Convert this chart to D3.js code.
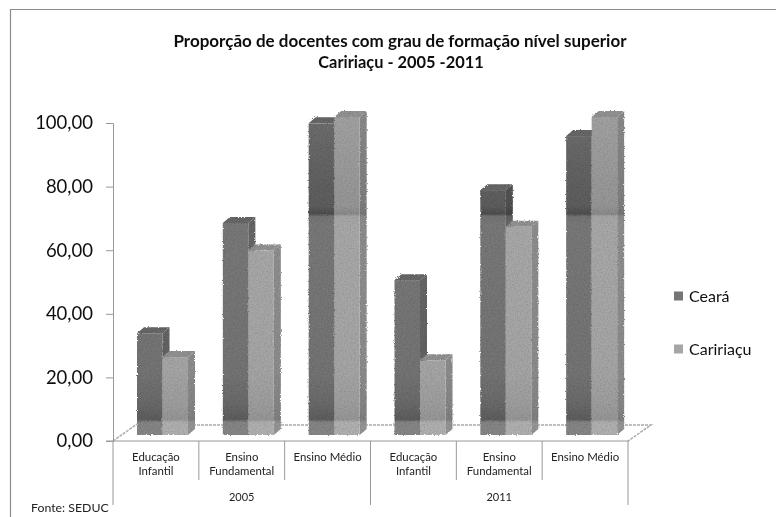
<!DOCTYPE html>
<html>
<head>
<meta charset="utf-8">
<style>
body { margin: 0; background: #fff; }
svg { display: block; }
text { font-family: Lato, "Open Sans", sans-serif; fill: #111; }
.title { font-weight: 700; text-anchor: middle; }
.yAxis text { font-size: 18.5px; }
.yAxis path, .yAxis line { stroke: #999; stroke-width: 1px; }
.xAxis text { font-size: 11.4px; fill: #222; }
.year { font-size: 11px; text-anchor: middle; fill: #222; }
.sep { stroke: #999; stroke-width: 1px; }
.floor { stroke: #aaa; stroke-width: 1.5px; stroke-dasharray: 3 1; fill: none; }
.legend { font-size: 16px; }
.source { font-size: 12.3px; fill: #222; }
</style>
</head>
<body>
<script src="https://d3js.org/d3.v7.min.js"></script>
<script>

// data
var categories = ["Educação Infantil", "Ensino Fundamental", "Ensino Médio",
                  "Educação Infantil", "Ensino Fundamental", "Ensino Médio"];
var years = ["2005", "2011"];
var seriesNames = ["Ceará", "Caririaçu"];
var ceara = [32, 66.7, 98, 48.7, 77, 94];
var caririacu = [24.5, 58, 100, 23.5, 65.5, 100];
var yTicks = [0, 20, 40, 60, 80, 100];
var seriesColors = ["#757575", "#a6a6a6"];

var width = 776, height = 517;
var depthX = 7, depthY = 6;   // the fake 3d offset
var axisLeft = 113, axisRight = 628;
var axisZero = 441, axisTop = 123;

var x0 = d3.scaleBand().domain(d3.range(categories.length)).range([axisLeft, axisRight]);
var x1 = d3.scaleBand().domain(d3.range(seriesNames.length)).range([24, 75]);

// walls
var y = d3.scaleLinear().domain([0, 100]).range([axisZero, axisTop]);
// front face of the bars sits a bit forward of the wall
var yFront = function(v) { return y(v) - depthY; };

var svg = d3.select("body").append("svg")
    .attr("width", width)
    .attr("height", height);

var defs = svg.append("defs");

// scanned look: rough edges and grain on the bars
var rough = defs.append("filter").attr("id", "rough")
    .attr("x", "-5%").attr("y", "-5%").attr("width", "110%").attr("height", "110%");
rough.append("feTurbulence").attr("type", "fractalNoise").attr("baseFrequency", 0.7)
    .attr("numOctaves", 2).attr("seed", 3).attr("result", "noise");
rough.append("feDisplacementMap").attr("in", "SourceGraphic").attr("in2", "noise")
    .attr("scale", 2.5).attr("result", "moved");
rough.append("feColorMatrix").attr("in", "noise").attr("type", "matrix")
    .attr("values", "0 0 0 0 0  0 0 0 0 0  0 0 0 0 0  0.5 0 0 0 -0.18").attr("result", "grain");
rough.append("feComposite").attr("in", "grain").attr("in2", "moved").attr("operator", "in").attr("result", "g2");
var fm = rough.append("feMerge");
fm.append("feMergeNode").attr("in", "moved");
fm.append("feMergeNode").attr("in", "g2");
rough.append("feGaussianBlur").attr("stdDeviation", 0.35);

var soft = defs.append("filter").attr("id", "soft");
soft.append("feGaussianBlur").attr("stdDeviation", 0.3);

// the two shaded bands across the bars, [value, darker amount]
var shade = [[0, -0.4], [4, -0.35], [4.9, 0.6], [10, 0.25], [20, 0], [66, -0.1], [68.8, 0], [69.5, 1.1],
             [72, 0.6], [85, 0.4], [100, 0.15], [104, 0.15]];
// the light series takes the bands more weakly
var shadeAmount = [1, 0.45];

function addGradient(id, color, amount) {
    var g = defs.append("linearGradient").attr("id", id)
        .attr("gradientUnits", "userSpaceOnUse")
        .attr("x1", 0).attr("x2", 0)
        .attr("y1", yFront(0)).attr("y2", yFront(104));
    shade.forEach(function(s) {
        var c = d3.color(color).darker(s[1] * amount);
        g.append("stop").attr("offset", s[0] / 104).attr("stop-color", c.formatHex());
    });
}
seriesColors.forEach(function(c, i) {
    addGradient("front" + i, c, shadeAmount[i]);
    addGradient("side" + i, d3.color(c).darker(0.45).formatHex(), shadeAmount[i]);
});

// outer frame, runs off the page on the right and the bottom
svg.append("path").attr("d", d3.line()([[width, 9.5], [10.5, 9.5], [10.5, height]]))
    .attr("fill", "none").attr("stroke", "#8c8c8c").attr("stroke-width", 1.2);

// title
var titleG = svg.append("g").attr("filter", "url(#soft)");
titleG.append("text").attr("class", "title").attr("x", 400).attr("y", 47)
    .style("font-size", "17px")
    .text("Proporção de docentes com grau de formação nível superior");
titleG.append("text").attr("class", "title").attr("x", 401).attr("y", 68)
    .style("font-size", "16.4px")
    .text("Caririaçu - 2005 -2011");

// floor
var floorLine = d3.line();
svg.append("path").attr("class", "floor")
    .attr("d", floorLine([[axisLeft, axisZero], [axisLeft + 24, axisZero - 17]]));
svg.append("path").attr("class", "floor")
    .attr("d", floorLine([[axisLeft + 24, axisZero - 16], [axisRight + 23, axisZero - 16], [axisRight, axisZero]]));

// y axis
svg.append("g")
    .attr("class", "yAxis")
    .attr("transform", "translate(" + axisLeft + ",0)")
    .attr("filter", "url(#soft)")
    .call(d3.axisLeft(y)
        .tickValues(yTicks)
        .tickSize(7)
        .tickPadding(13)
        .tickFormat(function(d) { return d3.format(".2f")(d).replace(".", ","); }));

// bars
var values = [ceara, caririacu];
var bars = svg.append("g").attr("filter", "url(#rough)");

categories.forEach(function(cat, c) {
    values.forEach(function(series, s) {
        var left = x0(c) + x1(s);
        var right = left + x1.bandwidth();
        var top = yFront(series[c]);
        var base = yFront(0);
        var g = bars.append("g");

        // side
        g.append("path")
            .attr("d", d3.line()([[right, base], [right + depthX, base - depthY],
                [right + depthX, top - depthY], [right, top]]) + "Z")
            .attr("fill", "url(#side" + s + ")");
        // top
        g.append("path")
            .attr("d", d3.line()([[left, top], [left + depthX, top - depthY],
                [right + depthX, top - depthY], [right, top]]) + "Z")
            .attr("fill", d3.color(seriesColors[s]).darker(0.35).formatHex());
        // front
        g.append("rect")
            .attr("x", left)
            .attr("y", top)
            .attr("width", x1.bandwidth())
            .attr("height", base - top)
            .attr("fill", "url(#front" + s + ")");
    });
});

// category axis, two levels
var xG = svg.append("g").attr("filter", "url(#soft)");
xG.append("line").attr("class", "sep")
    .attr("x1", axisLeft - 7).attr("x2", axisRight + 1)
    .attr("y1", axisZero).attr("y2", axisZero)
    .attr("stroke-width", 1.5);

var xAxis = xG.append("g")
    .attr("class", "xAxis")
    .attr("transform", "translate(0," + axisZero + ")")
    .call(d3.axisBottom(x0).tickSize(0).tickPadding(0).tickFormat(function() { return ""; }));
xAxis.select(".domain").remove();

xAxis.selectAll(".tick text").each(function(d) {
    var words = categories[d].split(" ");
    // "Ensino Médio" stays on one line
    var lines = categories[d] === "Ensino Médio" ? [categories[d]] : words;
    var t = d3.select(this).text(null).attr("y", 0).attr("dy", null);
    lines.forEach(function(w, i) {
        t.append("tspan").attr("x", 0).attr("y", 20 + i * 14).text(w);
    });
});

d3.range(categories.length + 1).forEach(function(i) {
    var px = axisLeft + i * x0.step();
    var long = i % 3 === 0;
    xG.append("line").attr("class", "sep")
        .attr("x1", px).attr("x2", px)
        .attr("y1", axisZero).attr("y2", long ? 505 : 480);
});

years.forEach(function(yr, i) {
    xG.append("text").attr("class", "year")
        .attr("x", axisLeft + (i * 3 + 1.5) * x0.step())
        .attr("y", 501)
        .text(yr);
});

// legend
var legend = svg.append("g").attr("filter", "url(#soft)");
seriesNames.forEach(function(name, i) {
    var ly = 296 + i * 53;
    legend.append("rect").attr("x", 674).attr("y", ly - 4.5)
        .attr("width", 9).attr("height", 9)
        .attr("fill", seriesColors[i]);
    legend.append("text").attr("class", "legend")
        .attr("x", 689).attr("y", ly + 6)
        .text(name);
});

svg.append("text").attr("class", "source").attr("filter", "url(#soft)")
    .attr("x", 31).attr("y", 512)
    .text("Fonte: SEDUC");

</script>
</body>
</html>
